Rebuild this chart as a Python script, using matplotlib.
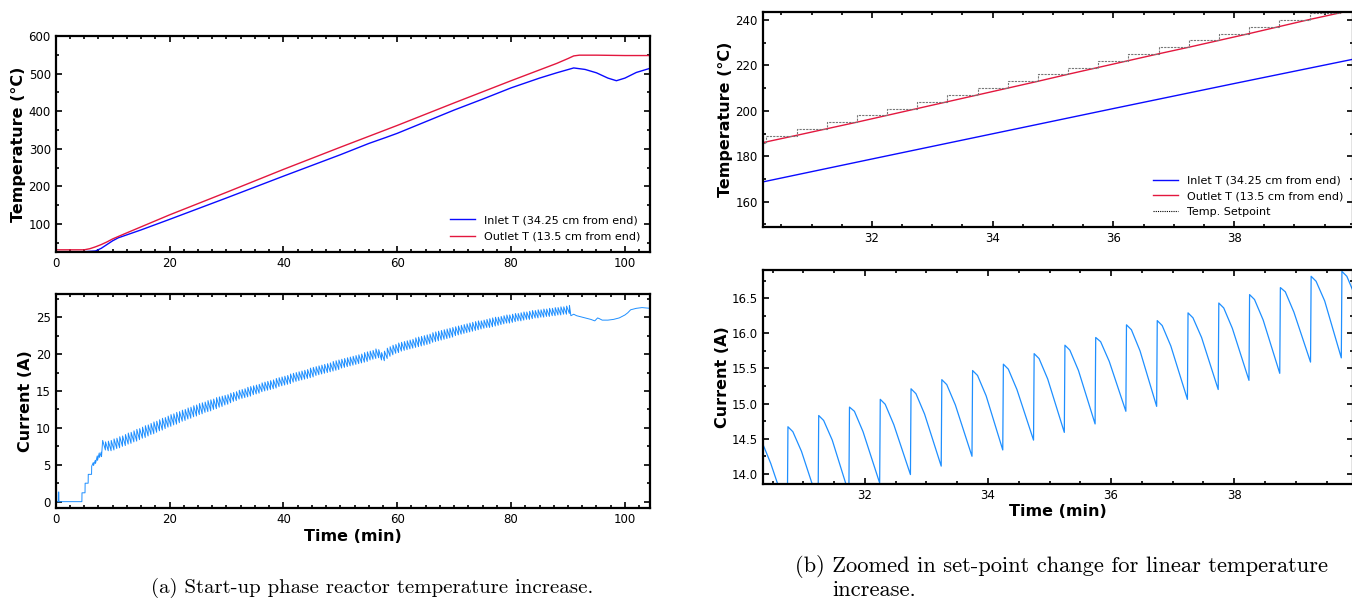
import numpy as np
import matplotlib
matplotlib.use("Agg")
import matplotlib.pyplot as plt
from matplotlib.ticker import MultipleLocator, FormatStrFormatter

# (a) start-up: reactor temperatures
t_inlet = [0, 5, 7, 8, 9, 10, 11, 15, 20, 30, 40, 50, 55, 58, 60, 65, 70, 75, 80, 85, 88,
           91, 93, 95, 97, 98.5, 100, 102, 104.4]
T_inlet = [26, 26, 28, 35, 45, 55, 63, 84, 112, 169, 227, 284, 314, 330, 341, 372, 403, 432,
           462, 488, 502, 515, 511, 502, 488, 481, 488, 503, 514]
t_outlet = [0, 5, 6, 7, 8, 9, 10, 12, 20, 30, 40, 50, 60, 70, 80, 88, 90, 91, 92, 95, 100, 104.4]
T_outlet = [31, 31, 34, 39, 45, 52, 60, 73, 124, 184, 245, 304, 362, 422, 481, 527, 540, 547,
            549, 549, 548, 548]

# (a) start-up: heater current
I_start_t = [0, 0.45, 0.47, 0.55, 0.57, 4.6, 4.62, 5.15, 5.17, 5.7, 5.72, 6.3, 6.32, 6.6, 6.65,
             6.95, 7.0, 7.3, 7.35, 7.65, 7.7, 8.0, 8.05]
I_start = [0, 0, 1.3, 1.3, 0, 0, 1.2, 1.2, 2.5, 2.5, 3.7, 3.7, 4.8, 5.3, 4.9, 5.6, 5.2, 6.2, 5.6,
           6.6, 6.0, 6.7, 6.1]
# one saw tooth every 0.5 min from 8.25 min: peak right after the set-point step, trough before the next
tooth_first, tooth_period = 8.25, 0.5
I_peak = [8.3, 8.1, 8.2, 8.3, 8.5, 8.6, 8.8, 8.9, 9.1, 9.3,
          9.4, 9.6, 9.8, 9.9, 10.1, 10.3, 10.4, 10.6, 10.8, 10.9,
          11.1, 11.3, 11.4, 11.6, 11.8, 11.9, 12.1, 12.2, 12.4, 12.5,
          12.7, 12.8, 13.0, 13.1, 13.3, 13.4, 13.5, 13.7, 13.8, 13.9,
          14.1, 14.2, 14.3, 14.4, 14.5, 14.7, 14.8, 14.9, 15.1, 15.2,
          15.3, 15.5, 15.6, 15.7, 15.8, 15.9, 16.1, 16.2, 16.3, 16.4,
          16.5, 16.7, 16.8, 16.9, 17.0, 17.1, 17.3, 17.4, 17.5, 17.6,
          17.7, 17.8, 17.9, 18.1, 18.2, 18.3, 18.4, 18.5, 18.6, 18.7,
          18.8, 19.0, 19.1, 19.2, 19.3, 19.4, 19.5, 19.6, 19.7, 19.8,
          19.9, 20.0, 20.2, 20.3, 20.4, 20.5, 20.7, 20.6, 20.2, 20.4,
          20.8, 21.0, 21.2, 21.3, 21.5, 21.6, 21.7, 21.8, 21.9, 22.0,
          22.2, 22.3, 22.4, 22.5, 22.6, 22.7, 22.9, 23.0, 23.1, 23.2,
          23.3, 23.4, 23.5, 23.6, 23.7, 23.8, 23.9, 24.0, 24.1, 24.2,
          24.3, 24.4, 24.5, 24.5, 24.6, 24.7, 24.8, 24.9, 25.0, 25.0,
          25.1, 25.2, 25.3, 25.3, 25.4, 25.5, 25.5, 25.6, 25.7, 25.7,
          25.8, 25.9, 25.9, 26.0, 26.0, 26.1, 26.1, 26.2, 26.2, 26.3,
          26.3, 26.4, 26.4, 26.5]
I_trough = [7.0, 6.9, 6.9, 7.0, 7.2, 7.3, 7.5, 7.6, 7.8, 7.9,
            8.1, 8.2, 8.4, 8.6, 8.7, 8.9, 9.1, 9.2, 9.4, 9.6,
            9.7, 9.9, 10.1, 10.2, 10.4, 10.5, 10.7, 10.9, 11.0, 11.2,
            11.3, 11.5, 11.6, 11.8, 11.9, 12.1, 12.2, 12.3, 12.5, 12.6,
            12.8, 12.9, 13.1, 13.2, 13.4, 13.6, 13.7, 13.9, 14.0, 14.1,
            14.2, 14.3, 14.5, 14.6, 14.7, 14.9, 15.0, 15.1, 15.2, 15.3,
            15.4, 15.6, 15.7, 15.8, 15.9, 16.0, 16.2, 16.3, 16.4, 16.5,
            16.6, 16.7, 16.8, 16.9, 17.1, 17.2, 17.3, 17.4, 17.5, 17.6,
            17.7, 17.8, 17.9, 18.1, 18.2, 18.3, 18.4, 18.5, 18.6, 18.7,
            18.8, 18.9, 19.0, 19.2, 19.3, 19.4, 19.5, 19.2, 19.1, 19.4,
            19.7, 19.9, 20.1, 20.2, 20.4, 20.5, 20.6, 20.7, 20.8, 20.9,
            21.0, 21.1, 21.2, 21.3, 21.4, 21.6, 21.7, 21.8, 21.9, 22.0,
            22.1, 22.2, 22.3, 22.5, 22.6, 22.7, 22.8, 22.9, 23.0, 23.1,
            23.2, 23.3, 23.4, 23.5, 23.6, 23.6, 23.7, 23.8, 23.9, 24.0,
            24.1, 24.2, 24.2, 24.3, 24.4, 24.5, 24.5, 24.6, 24.7, 24.7,
            24.8, 24.9, 24.9, 25.0, 25.0, 25.1, 25.1, 25.2, 25.2, 25.3,
            25.3, 25.4, 25.4, 25.5]
I_end_t = [90.25, 90.5, 91.0, 91.5, 92.0, 93.0, 94.0, 94.7, 95.2, 95.5, 96.0, 97.0, 98.0, 99.0,
           100.0, 100.5, 101.0, 102.0, 103.0, 104.4]
I_end = [26.6, 25.2, 25.4, 25.2, 25.1, 24.9, 24.7, 24.5, 24.9, 24.8, 24.6, 24.6, 24.7, 24.9,
         25.3, 25.6, 26.0, 26.2, 26.3, 26.2]

# (b) zoomed window 30-40 min
zt_inlet = [30.19, 32, 34, 36, 38, 39.97]
zT_inlet = [168.7, 178.8, 189.9, 201.0, 212.0, 222.7]
zt_outlet = [30.19, 30.75, 31.25, 31.75, 32.25, 32.75, 33.25, 33.75, 34.25, 34.75, 35.25, 35.75,
             36.25, 36.75, 37.25, 37.75, 38.25, 38.75, 39.25, 39.75, 39.97]
zT_outlet = [186.0, 189.2, 192.1, 195.0, 198.0, 201.0, 204.0, 207.0, 210.0, 213.0, 216.1, 219.1,
             222.1, 225.1, 228.0, 231.0, 234.0, 237.1, 240.2, 243.1, 244.4]
zt_setpoint = [30.19, 30.24, 30.75, 31.25, 31.75, 32.25, 32.75, 33.25, 33.75, 34.25, 34.75, 35.25,
               35.75, 36.25, 36.75, 37.25, 37.75, 38.25, 38.75, 39.25, 39.75, 39.97]
zT_setpoint = [186, 189, 192, 195, 198, 201, 204, 207, 210, 213, 216, 219, 222, 225, 228, 231,
               234, 237, 240, 243, 246, 246]

# zoomed current teeth, one every 0.5 min from 30.25 min
ztooth_first = 30.25
zI_peak = [14.52, 14.67, 14.83, 14.95, 15.06, 15.21, 15.34, 15.47, 15.56, 15.71, 15.83, 15.94,
           16.12, 16.18, 16.29, 16.43, 16.55, 16.65, 16.81, 16.88]
zI_knee = [14.45, 14.60, 14.76, 14.89, 14.99, 15.14, 15.27, 15.40, 15.49, 15.64, 15.76, 15.88,
           16.05, 16.11, 16.22, 16.36, 16.48, 16.59, 16.74, 16.81]
zI_mid = [14.15, 14.32, 14.48, 14.60, 14.70, 14.85, 14.98, 15.11, 15.20, 15.35, 15.47, 15.60,
          15.75, 15.82, 15.94, 16.07, 16.19, 16.30, 16.46, 16.52]
zI_trough = [13.45, 13.60, 13.72, 13.87, 13.99, 14.11, 14.25, 14.34, 14.48, 14.59, 14.71, 14.89,
             14.96, 15.06, 15.20, 15.33, 15.43, 15.59, 15.65, 15.80]

caption_a = "(a) Start-up phase reactor temperature increase."
caption_b1 = "(b) Zoomed in set-point change for linear temperature"
caption_b2 = "increase."

c_in = "#0a0aff"
c_out = "#e3173e"
c_cur = "#1e8fff"

W, H = 1352, 600
fig = plt.figure(figsize=(W / 100, H / 100), dpi=100)


def box(l, t, r, b):
    return [l / W, 1 - b / H, (r - l) / W, (b - t) / H]


def style(ax, xmaj, xmin, ymaj, ymin):
    ax.xaxis.set_major_locator(MultipleLocator(xmaj))
    ax.xaxis.set_minor_locator(MultipleLocator(xmin))
    ax.yaxis.set_major_locator(MultipleLocator(ymaj))
    ax.yaxis.set_minor_locator(MultipleLocator(ymin))
    ax.tick_params(which="both", direction="in", top=True, right=True, labelsize=8.5, width=1.2)
    ax.tick_params(which="major", length=4)
    ax.tick_params(which="minor", length=2)
    for s in ax.spines.values():
        s.set_linewidth(1.6)


lab = dict(fontsize=11.5, fontweight="bold")

# sawtooth of the start-up current
tooth_t = tooth_first + tooth_period * np.arange(len(I_peak))
saw_t = np.column_stack([tooth_t, tooth_t + 0.48]).ravel()
saw_I = np.column_stack([I_peak, I_trough]).ravel()
cur_t = np.concatenate([I_start_t, saw_t, I_end_t])
cur_I = np.concatenate([I_start, saw_I, I_end])

ax1 = fig.add_axes(box(55.7, 36, 650, 251.7))
ax1.plot(t_inlet, T_inlet, color=c_in, lw=1.0, label="Inlet T (34.25 cm from end)")
ax1.plot(t_outlet, T_outlet, color=c_out, lw=1.0, label="Outlet T (13.5 cm from end)")
ax1.set_xlim(0, 104.4)
ax1.set_ylim(26, 600)
style(ax1, 20, 2.5, 100, 50)
ax1.set_ylabel("Temperature (°C)", labelpad=2, **lab)
ax1.legend(loc="lower right", frameon=False, fontsize=8, handlelength=2.2, borderaxespad=0.5,
           labelspacing=0.6)

ax2 = fig.add_axes(box(55.7, 294.3, 650, 508.3))
ax2.plot(cur_t, cur_I, color=c_cur, lw=0.7)
ax2.set_xlim(0, 104.4)
ax2.set_ylim(-0.9, 28.1)
style(ax2, 20, 2.5, 5, 2.5)
ax2.set_ylabel("Current (A)", labelpad=2, **lab)
ax2.set_xlabel("Time (min)", labelpad=2, **lab)

ax3 = fig.add_axes(box(762.7, 12, 1353, 226.7))
ax3.plot(zt_inlet, zT_inlet, color=c_in, lw=1.0, label="Inlet T (34.25 cm from end)")
ax3.plot(zt_outlet, zT_outlet, color=c_out, lw=1.0, label="Outlet T (13.5 cm from end)")
ax3.plot(zt_setpoint, zT_setpoint, color="#777777", lw=0.8, ls=(0, (2, 1)),
         drawstyle="steps-post", label="Temp. Setpoint")
ax3.set_xlim(30.19, 39.97)
ax3.set_ylim(149, 243.5)
style(ax3, 2, 0.5, 20, 10)
ax3.set_ylabel("Temperature (°C)", labelpad=2, **lab)
leg = ax3.legend(loc="lower right", frameon=False, fontsize=8, handlelength=2.2,
                 borderaxespad=0.5, labelspacing=0.5)
leg.get_lines()[2].set_color("black")
leg.get_lines()[2].set_linestyle((0, (1, 1)))

ztooth_t = ztooth_first + 0.5 * np.arange(len(zI_peak))
zsaw_t = np.column_stack([ztooth_t, ztooth_t + 0.08, ztooth_t + 0.22, ztooth_t + 0.49]).ravel()
zsaw_I = np.column_stack([zI_peak, zI_knee, zI_mid, zI_trough]).ravel()

ax4 = fig.add_axes(box(762.7, 270, 1353, 483.7))
ax4.plot(zsaw_t, zsaw_I, color=c_cur, lw=0.9)
ax4.set_xlim(30.34, 39.93)
ax4.set_ylim(13.86, 16.90)
style(ax4, 2, 0.5, 0.5, 0.25)
ax4.yaxis.set_major_formatter(FormatStrFormatter("%.1f"))
ax4.set_ylabel("Current (A)", labelpad=1, **lab)
ax4.set_xlabel("Time (min)", labelpad=2, **lab)

fig.text(372 / W, 1 - 588 / H, caption_a, ha="center", va="center", fontfamily="cmr10",
         fontsize=15)
fig.text(795 / W, 1 - 566 / H, caption_b1, ha="left", va="center", fontfamily="cmr10",
         fontsize=16.2)
fig.text(832 / W, 1 - 590 / H, caption_b2, ha="left", va="center", fontfamily="cmr10",
         fontsize=16.2)

fig.savefig("out.png", dpi=100)
